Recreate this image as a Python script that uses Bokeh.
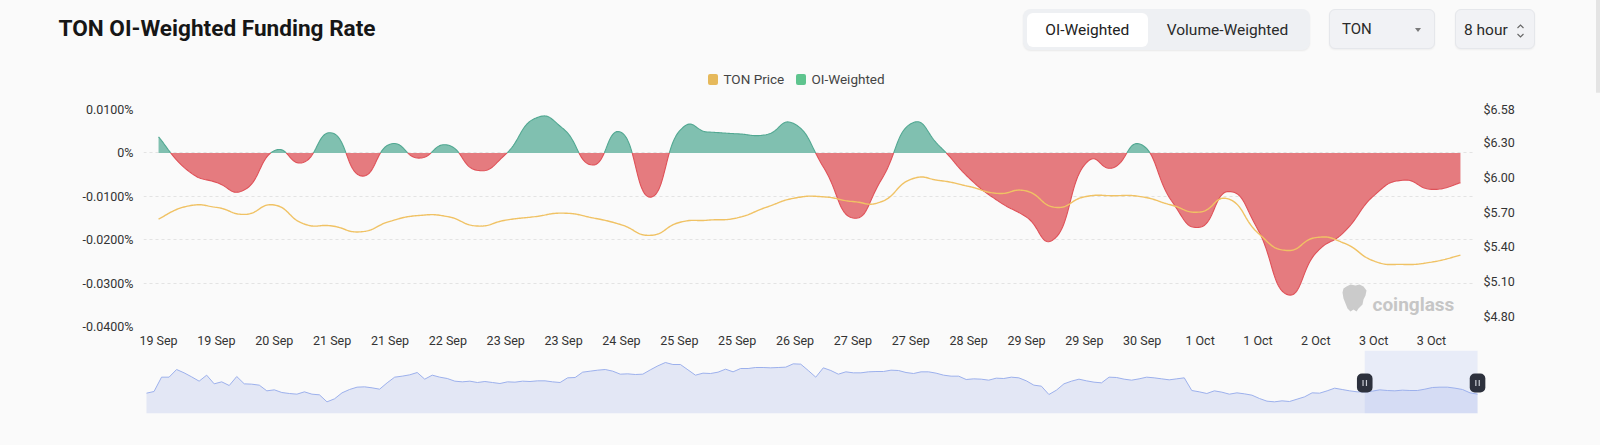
import numpy as np
import pandas as pd
from bokeh.plotting import figure
from bokeh.models import (Range1d, LinearAxis, FixedTicker, CustomJSTickFormatter,
                          Label, BoxAnnotation, PolyAnnotation, Div)
from bokeh.layouts import column, row
from bokeh.embed import file_html
from bokeh.resources import INLINE

# ---------------- data ----------------
start = pd.Timestamp("2024-09-19 00:00")
times = pd.date_range(start, periods=46, freq="8h")

# OI-weighted funding rate, in %
funding = [0.0037, -0.0040, -0.0068, -0.0084, 0.0005, -0.0022, 0.0046, -0.0053,
           0.0020, -0.0012, 0.0018, -0.0040, -0.0003, 0.0079, 0.0055, -0.0028,
           0.0047, -0.0102, 0.0050, 0.0048, 0.0044, 0.0042, 0.0066, -0.0035,
           -0.0150, -0.0060, 0.0067, 0.0015, -0.0057, -0.0110, -0.0148, -0.0196,
           -0.0028, -0.0034, 0.0018, -0.0109, -0.0171, -0.0089, -0.0177, -0.0326,
           -0.0231, -0.0181, -0.0099, -0.0063, -0.0084, -0.0069]

# TON price, USD
price = [5.64, 5.75, 5.74, 5.68, 5.76, 5.60, 5.58, 5.53, 5.62, 5.67, 5.66, 5.58,
         5.63, 5.66, 5.69, 5.65, 5.59, 5.50, 5.61, 5.63, 5.65, 5.74, 5.82, 5.83,
         5.79, 5.79, 5.98, 5.97, 5.92, 5.86, 5.88, 5.74, 5.83, 5.84, 5.83, 5.76,
         5.70, 5.81, 5.52, 5.37, 5.48, 5.43, 5.28, 5.25, 5.27, 5.33]

# navigator (daily price history)
nav_price = [5.44, 5.54, 6.40, 6.40, 6.86, 6.66, 6.42, 6.16, 6.52, 6.00, 6.12, 5.90,
             6.44, 6.00, 5.98, 5.92, 5.58, 5.64, 5.48, 5.42, 5.38, 5.52, 5.38, 5.34,
             4.92, 5.10, 5.46, 5.66, 5.80, 5.82, 5.76, 5.68, 6.06, 6.40, 6.46, 6.54,
             6.68, 6.28, 6.52, 6.40, 6.32, 6.16, 6.12, 6.16, 6.08, 6.14, 6.08, 6.02,
             6.12, 6.10, 6.16, 6.14, 6.18, 6.18, 6.12, 6.08, 6.36, 6.38, 6.70, 6.76,
             6.82, 6.86, 6.76, 6.58, 6.60, 6.56, 6.58, 6.84, 7.08, 7.28, 7.16, 7.16,
             6.84, 6.52, 6.64, 6.62, 6.70, 6.88, 6.72, 6.92, 6.92, 6.98, 6.98, 6.96,
             6.98, 7.00, 7.20, 7.18, 6.80, 6.40, 6.96, 6.80, 6.58, 6.72, 6.66, 6.66,
             6.72, 6.74, 6.74, 6.82, 6.80, 6.68, 6.62, 6.72, 6.72, 6.64, 6.52, 6.46,
             6.46, 6.26, 6.30, 6.28, 6.22, 6.34, 6.32, 6.40, 6.36, 6.18, 5.92, 5.86,
             5.36, 5.62, 6.00, 6.16, 6.28, 6.18, 6.10, 6.06, 6.40, 6.38, 6.28, 6.22,
             6.30, 6.40, 6.36, 6.30, 6.24, 6.30, 6.36, 5.60, 5.52, 5.42, 5.58, 5.50,
             5.38, 5.46, 5.40, 5.32, 5.12, 4.96, 4.92, 4.98, 4.94, 5.08, 5.22, 5.46,
             5.44, 5.58, 5.74, 5.66, 5.58, 5.52, 5.52, 5.56, 5.64, 5.60, 5.58, 5.62,
             5.60, 5.60, 5.68, 5.78, 5.80, 5.80, 5.74, 5.66, 5.46, 5.38]

left_ticks = [-0.04, -0.03, -0.02, -0.01, 0.0, 0.01]
right_ticks = [4.80, 5.10, 5.40, 5.70, 6.00, 6.30, 6.58]
window_days = 15

legend_labels = ["TON Price", "OI-Weighted"]
legend_colors = ["#e6b95b", "#5ec48e"]
buttons = ["OI-Weighted", "Volume-Weighted"]
title_text = "TON OI-Weighted Funding Rate"

# ---------------- helpers ----------------
BG = "#fafafa"
FONT = "Roboto"


def smooth_curve(x, y, k=0.25, n=24):
    x = np.asarray(x, float)
    y = np.asarray(y, float)
    N = len(x)
    t = np.linspace(0, 1, n, endpoint=False)
    ox, oy = [], []
    for i in range(N - 1):
        i0 = max(i - 1, 0)
        i3 = min(i + 2, N - 1)
        c1x = x[i] + k * (x[i + 1] - x[i0])
        c1y = y[i] + k * (y[i + 1] - y[i0])
        c2x = x[i + 1] - k * (x[i3] - x[i])
        c2y = y[i + 1] - k * (y[i3] - y[i])
        a = (1 - t) ** 3
        b = 3 * (1 - t) ** 2 * t
        c = 3 * (1 - t) * t ** 2
        d = t ** 3
        ox.append(a * x[i] + b * c1x + c * c2x + d * x[i + 1])
        oy.append(a * y[i] + b * c1y + c * c2y + d * y[i + 1])
    ox.append([x[-1]])
    oy.append([y[-1]])
    return np.concatenate(ox), np.concatenate(oy)


def with_zero_crossings(xd, yd):
    X, Y = [xd[0]], [yd[0]]
    for j in range(1, len(xd)):
        a, b = yd[j - 1], yd[j]
        if (a < 0 < b) or (a > 0 > b):
            f = a / (a - b)
            X.append(xd[j - 1] + f * (xd[j] - xd[j - 1]))
            Y.append(0.0)
        X.append(xd[j])
        Y.append(yd[j])
    return np.array(X), np.array(Y)


W = 1600
DIV_H = 92
bg_style = {"background-color": BG}

# ---------------- header (title, controls, legend) ----------------
legend_html = ""
for lbl, col, sl in zip(legend_labels, legend_colors, [708, 796]):
    legend_html += (
        f'<div style="position:absolute;left:{sl}px;top:74px;width:10.4px;height:10.7px;'
        f'background:{col};border-radius:2px;"></div>'
        f'<div style="position:absolute;left:{sl + 15.5}px;top:70px;height:19px;display:flex;'
        f'align-items:center;font-size:13.5px;color:#444;white-space:nowrap;">{lbl}</div>')

header_html = f"""
<div style="position:relative;width:{W}px;height:{DIV_H + 3}px;background:{BG};overflow:hidden;
            margin:0;padding:0;font-family:Roboto,'Noto Sans',sans-serif;">
  <div style="position:absolute;left:58.5px;top:18.2px;font-size:22.6px;line-height:22px;
              font-weight:700;color:#161616;white-space:nowrap;">{title_text}</div>
  <div style="position:absolute;left:1023px;top:9px;width:287px;height:41px;background:#eef0f3;
              border-radius:8px;box-shadow:0 1px 2px rgba(0,0,0,0.07);"></div>
  <div style="position:absolute;left:1026.5px;top:13px;width:121.5px;height:33.5px;
              background:#ffffff;border-radius:6px;display:flex;align-items:center;
              justify-content:center;font-size:15.5px;color:#222;white-space:nowrap;">{buttons[0]}</div>
  <div style="position:absolute;left:1148px;top:13px;width:159px;height:33.5px;display:flex;
              align-items:center;justify-content:center;font-size:15.5px;color:#2a2a2a;
              white-space:nowrap;">{buttons[1]}</div>
  <div style="position:absolute;left:1329px;top:9px;width:106px;height:40px;background:#f1f2f5;
              border:1px solid #e5e7eb;border-radius:6px;box-shadow:0 1px 2px rgba(0,0,0,0.05);"></div>
  <div style="position:absolute;left:1342px;top:9px;height:42px;display:flex;align-items:center;
              font-size:15px;color:#2a2a2a;">TON</div>
  <div style="position:absolute;left:1414.5px;top:27.8px;width:0;height:0;
              border-left:3.5px solid transparent;border-right:3.5px solid transparent;
              border-top:4px solid #7a7a7a;"></div>
  <div style="position:absolute;left:1455px;top:9px;width:80px;height:40px;background:#f1f2f5;
              border:1px solid #e5e7eb;border-radius:6px;box-shadow:0 1px 2px rgba(0,0,0,0.05);"></div>
  <div style="position:absolute;left:1464px;top:9px;height:42px;display:flex;align-items:center;
              font-size:15.5px;color:#2a2a2a;white-space:nowrap;">8 hour</div>
  <svg style="position:absolute;left:1516px;top:23px;" width="10" height="16">
    <polyline points="1.5,5 4.5,2 7.5,5" fill="none" stroke="#666" stroke-width="1.1"/>
    <polyline points="1.5,11 4.5,14 7.5,11" fill="none" stroke="#666" stroke-width="1.1"/>
  </svg>
  {legend_html}
  <div style="position:absolute;left:1596px;top:0;width:4px;height:{DIV_H + 3}px;background:#e4e4e4;"></div>
</div>
"""
header = Div(text=header_html, width=W, height=DIV_H, margin=0,
             styles={"background-color": BG, "overflow": "visible"})

# ---------------- main figure ----------------
ML, MR, MT, MB = 143, 125, 109 - DIV_H, 23
FRAME_H = 218
H1 = MT + FRAME_H + MB
n = len(funding)
idx = np.arange(n)

p = figure(width=W, height=H1, x_range=Range1d(-0.52, n - 1 + 0.52),
           y_range=Range1d(left_ticks[0], left_ticks[-1]),
           output_backend="svg", toolbar_location=None,
           min_border_left=ML, min_border_right=MR, min_border_top=MT, min_border_bottom=MB,
           background_fill_color=BG, border_fill_color=BG, outline_line_color=None)
p.extra_y_ranges = {"price": Range1d(4.717, 6.58)}

FL = ML
FB = DIV_H + MT + FRAME_H


def sx(xp):
    return xp - FL


def sy(yp):
    return FB - yp


lab_style = dict(major_label_text_font=FONT, major_label_text_font_size="12.5px",
                 major_label_text_color="#333333", axis_line_color=None,
                 major_tick_line_color=None, minor_tick_line_color=None,
                 major_tick_out=0, major_tick_in=0, minor_tick_out=0, minor_tick_in=0)
ya = p.yaxis[0]
ya.ticker = FixedTicker(ticks=left_ticks)
ya.formatter = CustomJSTickFormatter(
    code="return Math.abs(tick) < 1e-9 ? '0%' : tick.toFixed(4) + '%';")
ya.major_label_standoff = 10
for k_, v_ in lab_style.items():
    setattr(ya, k_, v_)

xa = p.xaxis[0]
tick_idx = [int(i) for i in idx[::2]]
xa.ticker = FixedTicker(ticks=tick_idx)
xa.major_label_overrides = {i: f"{times[i].day} {times[i].strftime('%b')}" for i in tick_idx}
xa.major_label_standoff = 6
for k_, v_ in lab_style.items():
    setattr(xa, k_, v_)

ra = LinearAxis(y_range_name="price", ticker=FixedTicker(ticks=right_ticks),
                formatter=CustomJSTickFormatter(code="return '$' + tick.toFixed(2);"),
                major_label_standoff=8, **lab_style)
p.add_layout(ra, "right")

p.xgrid.grid_line_color = None
p.ygrid.grid_line_color = "#e3e3e3"
p.ygrid.grid_line_dash = "3 3"
p.ygrid.grid_line_width = 1

# funding area (smoothed), green above zero, red below
fx, fy = smooth_curve(idx, funding)
fx, fy = with_zero_crossings(fx, fy)
pos = np.maximum(fy, 0)
neg = np.minimum(fy, 0)
p.varea(x=fx, y1=0, y2=pos, fill_color="#80c0b0", fill_alpha=1.0)
p.varea(x=fx, y1=0, y2=neg, fill_color="#e57b7f", fill_alpha=1.0)
p.line(fx, np.where(fy >= 0, fy, np.nan), line_color="#52a892", line_width=1.1)
p.line(fx, np.where(fy <= 0, fy, np.nan), line_color="#df5158", line_width=1.1)

# price line (smoothed)
px_, py_ = smooth_curve(idx, price)
p.line(px_, py_, y_range_name="price", line_color="#f0c264", line_width=1.4)

# watermark
p.add_layout(PolyAnnotation(
    xs=[sx(v) for v in [1346, 1350, 1355, 1359, 1363, 1366, 1365, 1363, 1362, 1358, 1356,
                        1353, 1350, 1347, 1345, 1343, 1342, 1343]],
    ys=[sy(v) for v in [287, 285, 286, 285, 287, 291, 296, 300, 305, 309, 312, 310, 312,
                        309, 304, 299, 293, 289]],
    xs_units="screen", ys_units="screen", fill_color="#cbcbcb", fill_alpha=1,
    line_color=None))
p.add_layout(Label(x=sx(1372), y=sy(305), x_units="screen", y_units="screen",
                   text="coinglass", text_font=FONT, text_font_size="19px",
                   text_font_style="bold", text_color="#c6c6c6",
                   text_baseline="alphabetic"))

# ---------------- navigator ----------------
NAV_TOP = DIV_H + H1
H2 = 445 - NAV_TOP
NAV_BOTTOM = 413
NL, NR = 138, 108
NB = 445 - NAV_BOTTOM
frame_w = W - NL - NR
ppd = 7.52
nav_x0 = (NL - 146) / ppd
nav_x1 = nav_x0 + frame_w / ppd
nd = np.arange(len(nav_price))

p2 = figure(width=W, height=H2, x_range=Range1d(nav_x0, nav_x1), y_range=Range1d(4.22, 8.0),
            output_backend="svg", toolbar_location=None,
            x_axis_location=None, y_axis_location=None,
            min_border_left=NL, min_border_right=NR, min_border_top=0, min_border_bottom=NB,
            background_fill_color=BG, border_fill_color=BG, outline_line_color=None)
p2.grid.grid_line_color = None
p2.varea(x=nd, y1=4.22, y2=nav_price, fill_color="#e3e7f5", fill_alpha=1)
p2.line(nd, nav_price, line_color="#9cb0ec", line_width=1)

w_right = nd[-1]
w_left = w_right - window_days
p2.add_layout(BoxAnnotation(left=w_left, right=w_right, fill_color="#a0b4f0", fill_alpha=0.2,
                            line_color=None))

for dv in [w_left, w_right]:
    hx = (dv - nav_x0) * ppd
    p2.add_layout(BoxAnnotation(left=hx - 7.8, right=hx + 7.8, top=NAV_BOTTOM - 373,
                                bottom=NAV_BOTTOM - 392,
                                left_units="screen", right_units="screen",
                                top_units="screen", bottom_units="screen",
                                fill_color="#2d313d", fill_alpha=1, line_color=None,
                                border_radius=5))
    for off in (-1.7, 1.7):
        p2.add_layout(BoxAnnotation(left=hx + off - 0.6, right=hx + off + 0.6,
                                    top=NAV_BOTTOM - 379.5, bottom=NAV_BOTTOM - 385.5,
                                    left_units="screen", right_units="screen",
                                    top_units="screen", bottom_units="screen",
                                    fill_color="#c9ccd4", fill_alpha=1, line_color=None))

layout = column(header, p, row(p2, styles=bg_style), styles=bg_style)
open("out.html", "w").write(file_html(layout, INLINE))
